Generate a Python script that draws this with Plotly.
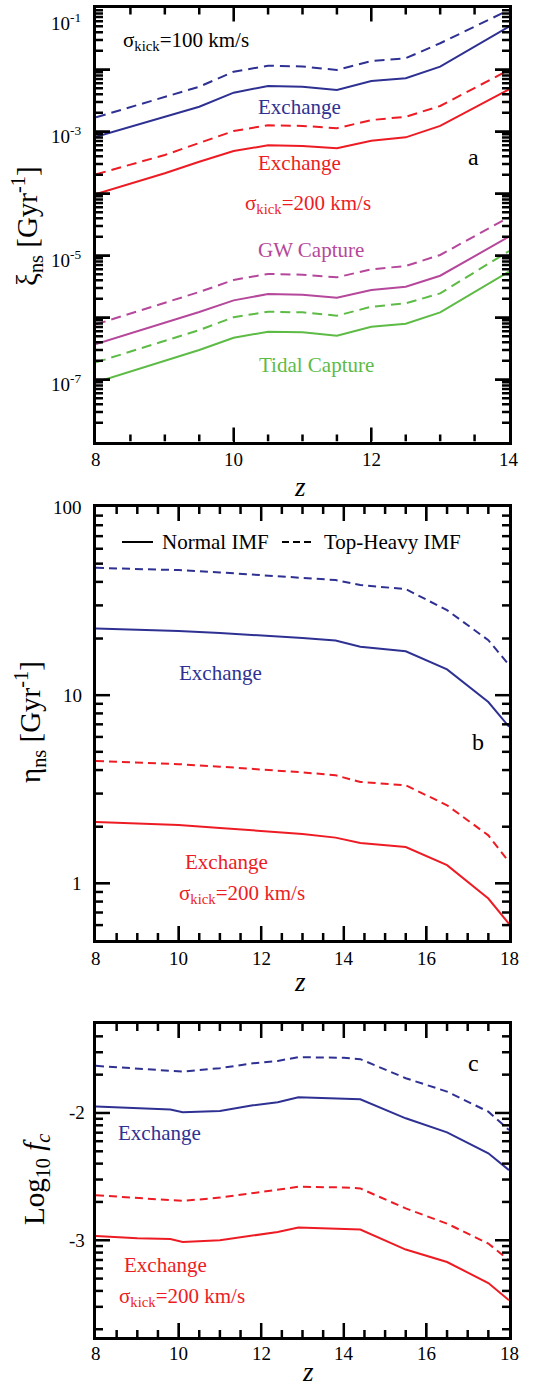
import numpy as np
import plotly.graph_objects as go

W, H = 549, 1388
FONT = "Liberation Serif"

BLUE = "#2E3192"
RED = "#ED1C24"
MAGENTA = "#B5489B"
GREEN = "#5DBB46"

# ---------------- Panel a: xi_ns [Gyr^-1] vs z ----------------
z_a = [8, 9, 9.5, 10, 10.5, 11, 11.5, 12, 12.5, 13, 14]
exch100_normal = [8.24e-4, 1.73e-3, 2.51e-3, 4.23e-3, 5.42e-3, 5.28e-3, 4.67e-3, 6.53e-3, 7.21e-3, 1.11e-2, 4.90e-2]
exch100_heavy = [1.69e-3, 3.57e-3, 5.28e-3, 9.23e-3, 1.15e-2, 1.12e-2, 9.82e-3, 1.37e-2, 1.52e-2, 2.65e-2, 9.12e-2]
exch200_normal = [9.82e-5, 2.12e-4, 3.26e-4, 4.84e-4, 5.98e-4, 5.83e-4, 5.36e-4, 7.11e-4, 8.05e-4, 1.23e-3, 4.80e-3]
exch200_heavy = [2.04e-4, 4.18e-4, 6.53e-4, 1.02e-3, 1.26e-3, 1.23e-3, 1.13e-3, 1.53e-3, 1.73e-3, 2.58e-3, 9.82e-3]
gw_normal = [3.74e-7, 8.15e-7, 1.23e-6, 1.89e-6, 2.39e-6, 2.33e-6, 2.08e-6, 2.78e-6, 3.14e-6, 4.72e-6, 2.01e-5]
gw_heavy = [7.76e-7, 1.71e-6, 2.58e-6, 4.03e-6, 5.04e-6, 4.90e-6, 4.45e-6, 5.98e-6, 6.78e-6, 1.02e-5, 4.13e-5]
tidal_normal = [9.02e-8, 1.99e-7, 2.99e-7, 4.72e-7, 5.90e-7, 5.77e-7, 5.08e-7, 7.11e-7, 7.94e-7, 1.21e-6, 5.48e-6]
tidal_heavy = [1.89e-7, 4.18e-7, 6.28e-7, 1.01e-6, 1.24e-6, 1.21e-6, 1.07e-6, 1.49e-6, 1.69e-6, 2.45e-6, 1.18e-5]

# ---------------- Panel b: eta_ns [Gyr^-1] vs z ----------------
z_b = [8, 9, 10, 11, 12, 13, 13.8, 14.4, 15.5, 16.5, 17.5, 18]
eta_blue_heavy = [47.5, 47.0, 46.2, 44.9, 43.4, 42.3, 40.9, 38.5, 36.6, 28.3, 19.6, 14.5]
eta_blue_normal = [22.6, 22.3, 21.9, 21.4, 20.8, 20.1, 19.5, 18.1, 17.1, 13.7, 9.2, 6.8]
eta_red_heavy = [4.47, 4.39, 4.30, 4.17, 4.03, 3.89, 3.75, 3.46, 3.32, 2.60, 1.80, 1.30]
eta_red_normal = [2.12, 2.08, 2.04, 1.97, 1.90, 1.83, 1.75, 1.64, 1.56, 1.25, 0.83, 0.61]

# ---------------- Panel c: Log10 f_c vs z ----------------
z_c = [8, 9, 9.8, 10.1, 11, 11.8, 12.4, 12.9, 14, 14.4, 15.5, 16.5, 17.5, 18]
fc_blue_heavy = [-1.63, -1.65, -1.665, -1.675, -1.648, -1.61, -1.591, -1.561, -1.567, -1.577, -1.727, -1.832, -1.99, -2.134]
fc_blue_normal = [-1.95, -1.965, -1.972, -1.994, -1.984, -1.94, -1.915, -1.876, -1.884, -1.892, -2.042, -2.152, -2.317, -2.449]
fc_red_heavy = [-2.646, -2.67, -2.685, -2.691, -2.665, -2.63, -2.606, -2.58, -2.585, -2.593, -2.75, -2.869, -3.026, -3.157]
fc_red_normal = [-2.966, -2.985, -2.99, -3.013, -3.0, -2.965, -2.935, -2.90, -2.913, -2.916, -3.073, -3.171, -3.336, -3.472]

# tick values and labels
a_ytickvals = [1e-7, 1e-5, 1e-3, 1e-1]
a_yticktext = ["10<sup>-7</sup>", "10<sup>-5</sup>", "10<sup>-3</sup>", "10<sup>-1</sup>"]
a_ymajor = [1e-8, 1e-7, 1e-6, 1e-5, 1e-4, 1e-3, 1e-2, 1e-1]
b_ytickvals = [1, 10, 100]
b_yticktext = ["1", "10", "100"]
c_ytickvals = [-3, -2]
c_yticktext = ["-3", "-2"]
a_xticks = [8, 10, 12, 14]
bc_xticks = [8, 10, 12, 14, 16, 18]

DASH_A = "10px,6px"
DASH_B = "8px,5px"


def px_x(p):
    return p / W


def px_y(p):
    return 1 - p / H


# plot-area edges in pixels
LEFT, RIGHT = 96, 509
A_TOP, A_BOT = 7.5, 441.5
B_TOP, B_BOT = 507, 940
C_TOP, C_BOT = 1024, 1337

XDOM = [px_x(LEFT), px_x(RIGHT)]
DOM_A = [px_y(A_BOT), px_y(A_TOP)]
DOM_B = [px_y(B_BOT), px_y(B_TOP)]
DOM_C = [px_y(C_BOT), px_y(C_TOP)]

RANGE_AX = [8, 14]
RANGE_BX = [8, 18]
LOG_A = [-8, -1]
LOG_B = [float(np.log10(0.5)), 2]
RANGE_C = [-3.76, float(np.log10(0.05))]

fig = go.Figure()


def add(x, y, color, dash, xa, ya):
    fig.add_trace(go.Scatter(x=x, y=y, mode="lines", xaxis=xa, yaxis=ya,
                             line=dict(color=color, width=2, dash=dash),
                             showlegend=False, hoverinfo="skip"))


# panel a
add(z_a, exch100_heavy, BLUE, DASH_A, "x", "y")
add(z_a, exch100_normal, BLUE, "solid", "x", "y")
add(z_a, exch200_heavy, RED, DASH_A, "x", "y")
add(z_a, exch200_normal, RED, "solid", "x", "y")
add(z_a, gw_heavy, MAGENTA, DASH_A, "x", "y")
add(z_a, gw_normal, MAGENTA, "solid", "x", "y")
add(z_a, tidal_heavy, GREEN, DASH_A, "x", "y")
add(z_a, tidal_normal, GREEN, "solid", "x", "y")
# panel b
add(z_b, eta_blue_heavy, BLUE, DASH_B, "x2", "y2")
add(z_b, eta_blue_normal, BLUE, "solid", "x2", "y2")
add(z_b, eta_red_heavy, RED, DASH_B, "x2", "y2")
add(z_b, eta_red_normal, RED, "solid", "x2", "y2")
# panel c
add(z_c, fc_blue_heavy, BLUE, DASH_B, "x3", "y3")
add(z_c, fc_blue_normal, BLUE, "solid", "x3", "y3")
add(z_c, fc_red_heavy, RED, DASH_B, "x3", "y3")
add(z_c, fc_red_normal, RED, "solid", "x3", "y3")

# ---------- inside tick marks on all four sides (drawn as a black line trace) ----------
MAJ, MIN = 14, 7


def log_minor(lo, hi):
    return [k * 10.0 ** n for n in range(lo, hi) for k in range(2, 10)]


def tick_trace(xa, ya, xr, yr, ylog, xmaj, xmin, ymaj, ymin, hpx):
    wpx = RIGHT - LEFT
    kx = (xr[1] - xr[0]) / wpx
    ky = (yr[1] - yr[0]) / hpx

    def ydat(r):
        return 10.0 ** r if ylog else r

    def yrng(v):
        return float(np.log10(v)) if ylog else v

    xs, ys = [], []
    for vals, L in ((ymaj, MAJ), (ymin, MIN)):
        for v in vals:
            if yr[0] + 1e-9 < yrng(v) < yr[1] - 1e-9:
                xs += [xr[0], xr[0] + L * kx, None, xr[1] - L * kx, xr[1], None]
                ys += [v, v, None, v, v, None]
    for vals, L in ((xmaj, MAJ), (xmin, MIN)):
        for v in vals:
            if xr[0] + 1e-9 < v < xr[1] - 1e-9:
                xs += [v, v, None, v, v, None]
                ys += [ydat(yr[0]), ydat(yr[0] + L * ky), None,
                       ydat(yr[1] - L * ky), ydat(yr[1]), None]
    fig.add_trace(go.Scatter(x=xs, y=ys, mode="lines", xaxis=xa, yaxis=ya,
                             line=dict(color="black", width=2.5), connectgaps=False,
                             showlegend=False, hoverinfo="skip"))


a_xminor = [float(v) for v in np.arange(8.5, 14, 0.5) if v not in a_xticks]
bc_xminor = [float(v) for v in np.arange(8.5, 18, 0.5) if v not in bc_xticks]
c_yminor = [float(np.log10(k * 10.0 ** n)) for n in (-4, -3, -2) for k in range(2, 10)]

tick_trace("x", "y", RANGE_AX, LOG_A, True, a_xticks, a_xminor,
           a_ymajor, log_minor(-8, -1), A_BOT - A_TOP)
tick_trace("x2", "y2", RANGE_BX, LOG_B, True, bc_xticks, bc_xminor,
           b_ytickvals, log_minor(-1, 2), B_BOT - B_TOP)
tick_trace("x3", "y3", RANGE_BX, RANGE_C, False, bc_xticks, bc_xminor,
           c_ytickvals, c_yminor, C_BOT - C_TOP)


def frame_axis(**kw):
    d = dict(showline=True, linecolor="black", linewidth=2.5, mirror="ticks",
             ticks="inside", ticklen=MAJ, tickwidth=2, tickcolor="black",
             showticklabels=False, showgrid=False, zeroline=False, automargin=False)
    d.update(kw)
    return d


fig.update_layout(
    width=W, height=H, margin=dict(l=0, r=0, t=0, b=0),
    paper_bgcolor="white", plot_bgcolor="white",
    font=dict(family=FONT, color="black"), showlegend=False,
    xaxis=frame_axis(range=RANGE_AX, domain=XDOM, anchor="y", tickvals=a_xticks),
    xaxis2=frame_axis(range=RANGE_BX, domain=XDOM, anchor="y2", tickvals=bc_xticks),
    xaxis3=frame_axis(range=RANGE_BX, domain=XDOM, anchor="y3", tickvals=bc_xticks),
    yaxis=frame_axis(type="log", range=LOG_A, domain=DOM_A, anchor="x", tickvals=a_ymajor),
    yaxis2=frame_axis(type="log", range=LOG_B, domain=DOM_B, anchor="x2", tickvals=b_ytickvals),
    yaxis3=frame_axis(range=RANGE_C, domain=DOM_C, anchor="x3", tickvals=c_ytickvals),
)

# legend samples (panel b)
shapes = [
    dict(type="line", xref="paper", yref="paper", x0=px_x(122), x1=px_x(153),
         y0=px_y(542), y1=px_y(542), line=dict(color="black", width=2)),
    dict(type="line", xref="paper", yref="paper", x0=px_x(282), x1=px_x(313),
         y0=px_y(542), y1=px_y(542), line=dict(color="black", width=2, dash="7px,4px")),
]

# ---------- texts ----------
ann = []


def text(s, x, y, color="black", size=20, angle=0, xanchor="center"):
    ann.append(dict(text=s, x=px_x(x), y=px_y(y), xref="paper", yref="paper",
                    showarrow=False, textangle=angle, xanchor=xanchor, yanchor="middle",
                    font=dict(family=FONT, size=size, color=color)))


TICKFONT = dict(family=FONT, size=19, color="black")


def xlabels(xref, vals, ypix):
    for v in vals:
        ann.append(dict(text=str(v), x=v, y=px_y(ypix), xref=xref, yref="paper",
                        showarrow=False, xanchor="center", yanchor="middle", font=TICKFONT))


def ylabels(yref, vals, texts, xpix, log=True, yshift=0):
    for v, t in zip(vals, texts):
        ann.append(dict(text=t, x=px_x(xpix), y=float(np.log10(v)) if log else v,
                        xref="paper", yref=yref, showarrow=False, xanchor="right",
                        yanchor="middle", yshift=yshift, font=TICKFONT))


xlabels("x", a_xticks, A_BOT + 18)
xlabels("x2", bc_xticks, B_BOT + 18)
xlabels("x3", bc_xticks, C_BOT + 16)
ylabels("y", a_ytickvals[:3], a_yticktext[:3], 83, yshift=-3)
text(a_yticktext[3], 83, 22, size=19, xanchor="right")
ylabels("y2", b_ytickvals, b_yticktext, 84)
ylabels("y3", c_ytickvals, c_yticktext, 87, log=False)

# panel a texts
text("σ<sub>kick</sub>=100 km/s", 186, 41, size=21)
text("Exchange", 299, 107, BLUE, 21)
text("Exchange", 299, 163, RED, 21)
text("a", 473, 157, size=24)
text("σ<sub>kick</sub>=200 km/s", 308, 204, RED, 21)
text("GW Capture", 311, 250, MAGENTA, 21)
text("Tidal Capture", 316, 365, GREEN, 21)
text("ξ<sub>ns</sub> [Gyr<sup>-1</sup>]", 27, 226, size=29, angle=-90)
text("<i>z</i>", 300, 487, size=27)

# panel b texts
text("Normal IMF", 160, 542, size=21, xanchor="left")
text("Top-Heavy IMF", 322, 542, size=21, xanchor="left")
text("Exchange", 220, 673, BLUE, 21)
text("b", 478, 742, size=24)
text("Exchange", 226, 862, RED, 21)
text("σ<sub>kick</sub>=200 km/s", 242, 894, RED, 21)
text("η<sub>ns</sub> [Gyr<sup>-1</sup>]", 30, 722, size=29, angle=-90)
text("<i>z</i>", 300, 982, size=27)

# panel c texts
text("c", 473, 1063, size=24)
text("Exchange", 159, 1133, BLUE, 21)
text("Exchange", 165, 1265, RED, 21)
text("σ<sub>kick</sub>=200 km/s", 182, 1297, RED, 21)
text("Log<sub>10</sub> <i>f</i><sub><i>c</i></sub>", 36, 1180, size=29, angle=-90)
text("<i>z</i>", 308, 1372, size=27)

fig.update_layout(annotations=ann, shapes=shapes)

fig.write_html("out.html", config={"displayModeBar": False},
               post_script="document.body.style.margin='0px';")
